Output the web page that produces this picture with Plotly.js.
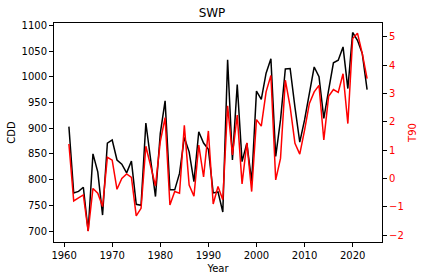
<!DOCTYPE html>
<html><head><meta charset="utf-8">
<script src="https://cdn.plot.ly/plotly-3.0.1.min.js"></script>
<style>body{margin:0;background:#fff}#c{width:424px;height:280px}</style>
</head><body><div id="c"></div>
<script>
const years = [];
for (let y = 1961; y <= 2023; y++) years.push(y);
const cdd = [903,774,777,785,700,850,815,731,871,877,
  838,830,813,836,752,750,910,838,767,890,
  953,780,780,812,882,854,796,893,871,859,
  774,776,737,1033,838,985,835,871,796,972,
  956,1007,1035,845,916,1015,1016,941,873,916,
  967,1019,1000,919,974,1027,1032,1058,977,1086,
  1071,1045,975];
const t90 = [1.22,-0.79,-0.68,-0.58,-1.86,-0.35,-0.52,-0.99,0.75,0.65,
  -0.38,0.0,0.16,0.04,-1.32,-1.05,1.14,0.44,-0.26,1.3,
  2.15,-0.93,-0.46,-0.52,1.88,-0.23,-0.62,1.18,0.06,1.68,
  -0.9,-0.28,-0.75,2.57,0.83,2.24,-0.19,1.26,-0.46,2.08,
  1.85,3.06,3.64,-0.05,0.71,3.47,2.53,1.24,0.86,1.71,
  2.65,3.06,3.29,1.36,2.9,3.14,3.04,3.7,1.94,4.94,
  5.13,4.41,3.53];

const font = {family: 'DejaVu Sans', size: 10, color: '#000'};
const data = [
  {x: years, y: cdd, type: 'scatter', mode: 'lines', line: {color: '#000000', width: 1.5}, yaxis: 'y', showlegend: false},
  {x: years, y: t90, type: 'scatter', mode: 'lines', line: {color: '#ff0000', width: 1.5}, yaxis: 'y2', showlegend: false}
];
const layout = {
  width: 424, height: 280,
  margin: {l: 54, r: 42, t: 23, b: 38},
  paper_bgcolor: '#fff', plot_bgcolor: '#fff',
  font: font,
  title: {text: 'SWP', font: {family: 'DejaVu Sans', size: 12, color: '#000'}, x: 0.5, xanchor: 'center', y: 0.955, yanchor: 'middle'},
  xaxis: {
    range: [1957.9, 2026.1], tickvals: [1960,1970,1980,1990,2000,2010,2020],
    showgrid: false, zeroline: false, showline: true, linecolor: '#000', linewidth: 1, mirror: true,
    ticks: 'outside', ticklen: 4, tickcolor: '#000',
    title: {text: 'Year', font: font, standoff: 4}
  },
  yaxis: {
    range: [678.6, 1104.5], tickvals: [700,750,800,850,900,950,1000,1050,1100],
    showgrid: false, zeroline: false, showline: true, linecolor: '#000', linewidth: 1,
    ticks: 'outside', ticklen: 4, tickcolor: '#000',
    title: {text: 'CDD', font: font, standoff: 4}
  },
  yaxis2: {
    overlaying: 'y', side: 'right',
    range: [-2.24, 5.49], tickvals: [-2,-1,0,1,2,3,4,5],
    showgrid: false, zeroline: false, showline: true, linecolor: '#000', linewidth: 1,
    ticks: 'outside', ticklen: 4, tickcolor: '#000',
    tickfont: {family: 'DejaVu Sans', size: 10, color: '#ff0000'},
    title: {text: 'T90', font: {family: 'DejaVu Sans', size: 10, color: '#ff0000'}, standoff: 6}
  }
};
Plotly.newPlot('c', data, layout, {displayModeBar: false, staticPlot: true});
</script></body></html>
